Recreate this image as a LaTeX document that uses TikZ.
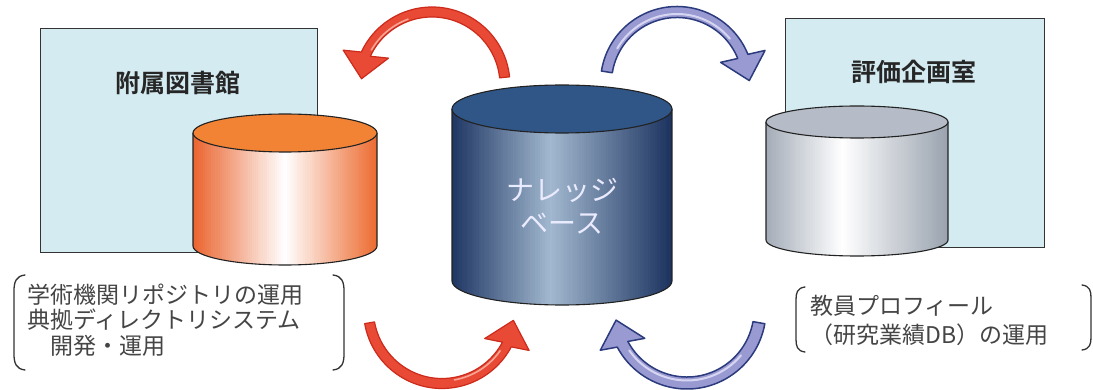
\documentclass[tikz,border=0pt]{standalone}
\usepackage{fontspec}
\newfontfamily\cjk{Noto Sans CJK JP}[BoldFont={Noto Sans CJK JP Bold}]
\usetikzlibrary{calc}
\definecolor{boxblue}{HTML}{D4EBF2}
\definecolor{boxline}{HTML}{333333}
\definecolor{cylline}{HTML}{222222}
\definecolor{orTop}{HTML}{F28334}
\definecolor{orL}{HTML}{EA622C}
\definecolor{orM}{HTML}{FFFFFF}
\definecolor{orR}{HTML}{EC6A2E}
\definecolor{nvTop}{HTML}{2F5687}
\definecolor{nvL}{HTML}{1D3562}
\definecolor{nvM}{HTML}{A2B8CF}
\definecolor{nvR}{HTML}{1A315E}
\definecolor{gyTop}{HTML}{B5BCC7}
\definecolor{gyL}{HTML}{A3ABB7}
\definecolor{gyM}{HTML}{FFFFFF}
\definecolor{gyR}{HTML}{99A2AE}
\definecolor{arRed}{HTML}{E94A35}
\definecolor{arRedLine}{HTML}{CC2A1A}
\definecolor{arRedHl}{HTML}{F8A595}
\definecolor{arBlue}{HTML}{9A9AD2}
\definecolor{arBlueLine}{HTML}{2B3B7D}
\definecolor{arBlueHl}{HTML}{D6D6F2}
\definecolor{txtgrey}{HTML}{454545}

% cylinder: #1 cx, #2 top cy, #3 bottom cy, #4 rx, #5 ry, #6 colour prefix, #7 light position, #8 name
\newcommand\drawcyl[8]{%
  \pgfmathsetmacro\cyW{2*#4/90}%
  \begin{scope}
    \clip (#1-#4,#2) -- (#1-#4,#3)
      arc[start angle=180, end angle=0, x radius=#4, y radius=#5] -- (#1+#4,#2)
      arc[start angle=0, end angle=180, x radius=#4, y radius=#5] -- cycle;
    \foreach \k in {0,...,89}{%
      \pgfmathsetmacro\cyT{(\k+0.5)/90}%
      \ifdim\cyT pt<#7pt
        \pgfmathtruncatemacro\cyP{100*(1-\cyT/#7)}\def\cyE{#6L}%
      \else
        \pgfmathtruncatemacro\cyP{100*(\cyT-#7)/(1-#7)}\def\cyE{#6R}%
      \fi
      \pgfmathsetmacro\cyA{#1-#4+\cyW*\k}%
      \pgfmathsetmacro\cyB{\cyA+\cyW+0.7}%
      \fill[\cyE!\cyP!#6M] (\cyA,#2-#5-2) rectangle (\cyB,#3+#5+2);
    }
  \end{scope}
  \path[draw=cylline, line width=1.1pt] (#1-#4,#2) -- (#1-#4,#3)
    arc[start angle=180, end angle=0, x radius=#4, y radius=#5] -- (#1+#4,#2);
  \path[draw=cylline, line width=1.1pt, fill=#6Top] (#1,#2) ellipse[x radius=#4, y radius=#5];
  \coordinate (#8) at (#1,{(#2+#3)/2});
}
% curved block arrow: #1 centre, #2 r, #3 start angle, #4 end angle, #5 half shaft,
% #6 half head, #7 head length, #8 style, #9 head direction
\newcommand\curvearrow[9]{%
  \pgfmathsetmacro\caRo{#2+#5}%
  \pgfmathsetmacro\caRi{#2-#5}%
  \pgfmathsetmacro\caOc{cos(#9+90-(#4))>0 ? #9+90 : #9-90}%
  \pgfmathsetmacro\caIc{\caOc+180}%
  \path[#8] ($(#1)+(#3:\caRo)$) arc[start angle=#3, end angle=#4, radius=\caRo]
    -- ($(#1)+(#4:#2)+(\caOc:#6)$) -- ($(#1)+(#4:#2)+(#9:#7)$) -- ($(#1)+(#4:#2)+(\caIc:#6)$)
    -- ($(#1)+(#4:\caRi)$) arc[start angle=#4, end angle=#3, radius=\caRi] -- cycle;
}
% highlight stripe: #1 centre, #2 radius, #3 from, #4 to, #5 style
\newcommand\arrowhl[5]{%
  \draw[#5] ($(#1)+(#3:#2)$) arc[start angle=#3, end angle=#4, radius=#2];
}

\tikzset{
  unitbox/.style={draw=boxline, line width=0.9pt, fill=boxblue},
  titletext/.style={font=\cjk\bfseries\fontsize{25}{30}\selectfont, text=black!85, inner sep=0pt},
  redarrow/.style={fill=arRed, draw=arRedLine, line width=1.2pt, line join=round},
  bluearrow/.style={fill=arBlue, draw=arBlueLine, line width=1.5pt, line join=round},
  redhl/.style={draw=arRedHl, line width=1.6pt, line cap=round},
  bluehl/.style={draw=arBlueHl, line width=2pt, line cap=round},
  brk/.style={draw=black!80, line width=1.3pt, line cap=round},
  notetext/.style={font=\cjk\fontsize{23}{25.5}\selectfont, text=txtgrey, inner sep=0pt, align=left},
}

\begin{document}
\begin{tikzpicture}[x=1pt, y=-1pt]
\useasboundingbox (0,0) rectangle (1093,390);

% unit boxes
\path[unitbox] (40,28) rectangle (317,252);
\node[titletext] (lib) at (178,83) {附属図書館};
\path[unitbox] (785,18) rectangle (1044,247);
\node[titletext] (eval) at (914,72) {評価企画室};

% cylinders
\drawcyl{285}{133}{246}{92}{19}{or}{0.5}{libdb}
\drawcyl{857}{122}{240}{91}{16}{gy}{0.42}{evaldb}
\drawcyl{562}{109}{281}{110}{24}{nv}{0.45}{kbdb}
\node[font=\cjk\fontsize{28}{33}\selectfont, text=white!92!blue, align=center, inner sep=0pt] (kb) at (562,206) {ナレッジ\\ベース};

% arrow centres
\coordinate (cTL) at (432,85);
\coordinate (cTR) at (677,83);
\coordinate (cBL) at (442,310);
\coordinate (cBR) at (687,310);

% arrows
\curvearrow{cTL}{73}{-6}{-155}{5}{23}{25}{redarrow}{100}
\arrowhl{cTL}{70}{-110}{-150}{redhl}
\curvearrow{cTR}{71}{-171}{-22}{5.5}{23}{25}{bluearrow}{75}
\arrowhl{cTR}{69}{-150}{-40}{bluehl}
\curvearrow{cBL}{73.5}{170}{28}{5}{23}{25}{redarrow}{-75}
\arrowhl{cBL}{71}{80}{35}{redhl}
\curvearrow{cBR}{73}{10}{152}{6}{23}{25}{bluearrow}{-105}
\arrowhl{cBR}{70.5}{40}{145}{bluehl}

% note brackets and text (left)
\draw[brk] (25,275) .. controls (16,276) and (14,282) .. (14,291) -- (14,354) .. controls (14,363) and (16,369) .. (25,370);
\draw[brk] (333,275) .. controls (342,276) and (344,282) .. (344,291) -- (344,354) .. controls (344,363) and (342,369) .. (333,370);
\node[notetext, anchor=west] (libnote) at (27,320) {学術機関リポジトリの運用\\典拠ディレクトリシステム\\　開発・運用};

% note brackets and text (right)
\draw[brk] (805,287) .. controls (797,288) and (796,293) .. (796,300) -- (796,339) .. controls (796,346) and (797,351) .. (805,352);
\draw[brk] (1082,285) .. controls (1090,286) and (1091,291) .. (1091,298) -- (1091,337) .. controls (1091,344) and (1090,349) .. (1082,350);
\node[notetext, anchor=west, font=\cjk\fontsize{23}{29}\selectfont] (evalnote) at (810,320.5) {教員プロフィール\\（研究業績DB）の運用};
\end{tikzpicture}
\end{document}
